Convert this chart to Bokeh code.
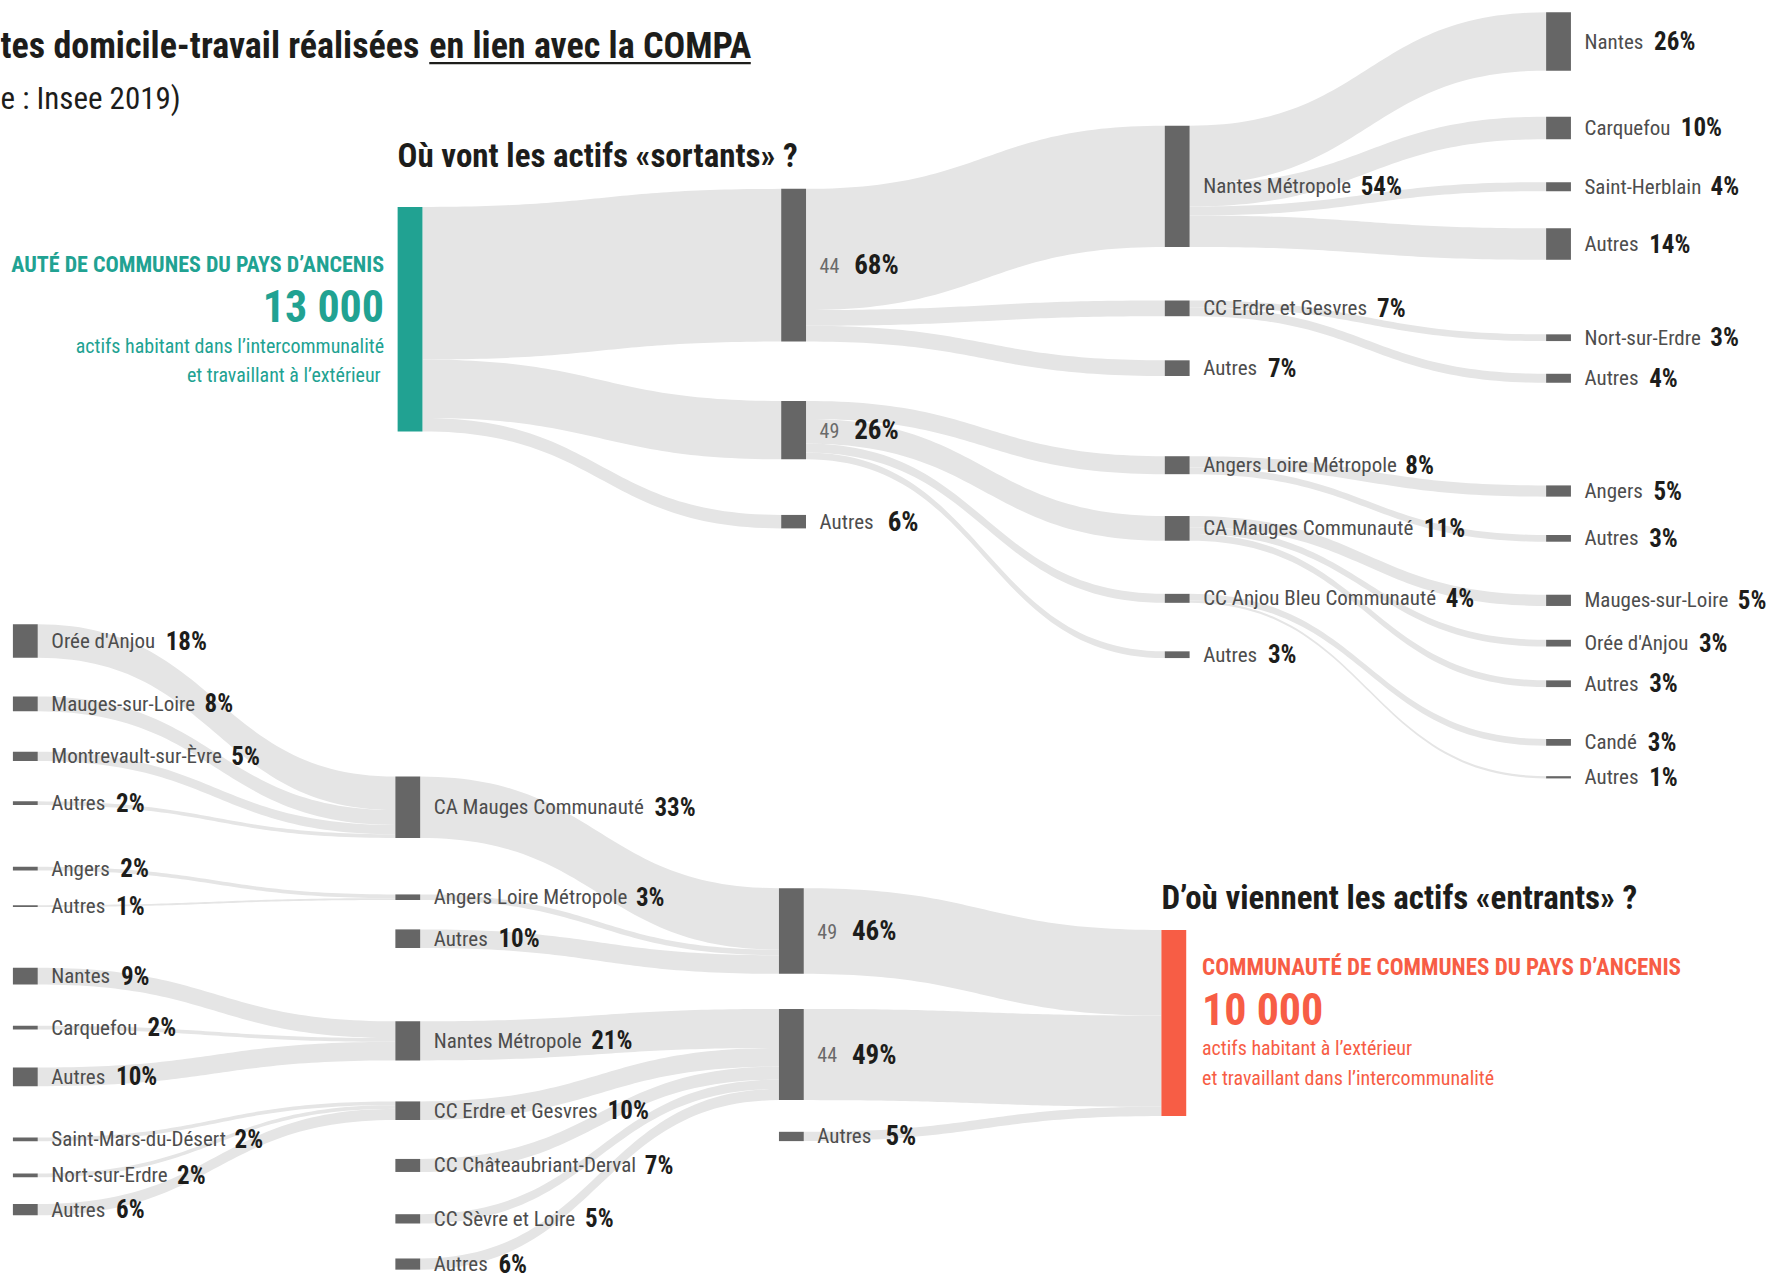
import unicodedata
import numpy as np
from bokeh.plotting import figure
from bokeh.models import Range1d, ColumnDataSource
from bokeh.embed import file_html
from bokeh.resources import INLINE
from bokeh.core.properties import value

# ------------------------------------------------------------------ data
title_part1 = "tes domicile-travail réalisées"
title_part2 = "en lien avec la COMPA"
subtitle = "e : Insee 2019)"
out_title = "Où vont les actifs «sortants» ?"
in_title = "D’où viennent les actifs «entrants» ?"
out_heading = "AUTÉ DE COMMUNES DU PAYS D’ANCENIS"
in_heading = "COMMUNAUTÉ DE COMMUNES DU PAYS D’ANCENIS"
out_total = "13 000"
in_total = "10 000"
out_caption = ["actifs habitant dans l’intercommunalité", "et travaillant à l’extérieur"]
in_caption = ["actifs habitant à l’extérieur", "et travaillant dans l’intercommunalité"]

# actifs "sortants" (% of 13 000)
out_l1_names = ["44", "49", "Autres"]
out_l1_pct = [68, 26, 6]

out_l2_names = ["Nantes Métropole", "CC Erdre et Gesvres", "Autres",
                "Angers Loire Métropole", "CA Mauges Communauté",
                "CC Anjou Bleu Communauté", "Autres"]
out_l2_pct = [54, 7, 7, 8, 11, 4, 3]
out_l2_parent = [0, 0, 0, 1, 1, 1, 1]

out_l3_names = ["Nantes", "Carquefou", "Saint-Herblain", "Autres",
                "Nort-sur-Erdre", "Autres", "Angers", "Autres",
                "Mauges-sur-Loire", "Orée d'Anjou", "Autres", "Candé", "Autres"]
out_l3_pct = [26, 10, 4, 14, 3, 4, 5, 3, 5, 3, 3, 3, 1]
out_l3_parent = [0, 0, 0, 0, 1, 1, 3, 3, 4, 4, 4, 5, 5]

# actifs "entrants" (% of 10 000)
in_l1_names = ["49", "44", "Autres"]
in_l1_pct = [46, 49, 5]

in_l2_names = ["CA Mauges Communauté", "Angers Loire Métropole", "Autres",
               "Nantes Métropole", "CC Erdre et Gesvres", "CC Châteaubriant-Derval",
               "CC Sèvre et Loire", "Autres"]
in_l2_pct = [33, 3, 10, 21, 10, 7, 5, 6]
in_l2_child = [0, 0, 0, 1, 1, 1, 1, 1]

in_l3_names = ["Orée d'Anjou", "Mauges-sur-Loire", "Montrevault-sur-Èvre", "Autres",
               "Angers", "Autres", "Nantes", "Carquefou", "Autres",
               "Saint-Mars-du-Désert", "Nort-sur-Erdre", "Autres"]
in_l3_pct = [18, 8, 5, 2, 2, 1, 9, 2, 10, 2, 2, 6]
in_l3_child = [0, 0, 0, 0, 1, 1, 3, 3, 3, 4, 4, 4]

# ------------------------------------------------------------------ layout / style
W_PX, H_PX = 1769, 1278
XR, YR = 1568, 1133
S = W_PX / XR
FONT = value("Roboto Condensed")
NODE_W = 22
LINK = "#e5e5e5"
NODE = "#666666"
TEAL = "#21a292"
RED = "#f75d45"
C_NAME = "#4d4d4d"
C_NUM = "#6a6a6a"
C_PCT = "#1d1d1b"
C_TITLE = "#1d1d1b"

top_k = 1.99
bot_k = 1.65
top_x = [352, 692, 1032, 1370]
bot_x = [11, 350, 690, 1029]
top_gaps = [[183], [167, 52.7, 49.3],
             [111, 47.5, 39.1, 71.1, 37.1, 47.1, 43],
             [10.5, 40.8, 38.1, 33, 66.1, 29, 91, 34, 47, 30, 30, 46, 27]]
bot_gaps = [[553, 34.3, 35.8, 35.75, 54.7, 30.7, 53.85, 36.65, 33.7, 45.5, 28.7, 23.7],
             [688, 50.05, 26.05, 65, 36.35, 34.5, 37.45, 31.0],
             [787, 31.1, 28.1], [824]]

# approximate Roboto advance widths (units / 2048) used to chain name + percent labels
ADV = {" ": 507, "%": 1465, "'": 313, "’": 392, "(": 684, ")": 694, "-": 553, ".": 527,
       ":": 484, "?": 946, "«": 940, "»": 938,
       "A": 1336, "B": 1275, "C": 1333, "D": 1343, "E": 1164, "F": 1132, "G": 1395,
       "H": 1460, "I": 557, "J": 1130, "K": 1284, "L": 1102, "M": 1788, "N": 1460,
       "O": 1408, "P": 1292, "Q": 1408, "R": 1260, "S": 1218, "T": 1222, "U": 1329,
       "V": 1302, "W": 1818, "X": 1284, "Y": 1230, "Z": 1226,
       "a": 1089, "b": 1120, "c": 1045, "d": 1126, "e": 1058, "f": 693, "g": 1120,
       "h": 1100, "i": 486, "j": 477, "k": 1013, "l": 486, "m": 1752, "n": 1102,
       "o": 1139, "p": 1120, "q": 1126, "r": 677, "s": 1031, "t": 655, "u": 1100,
       "v": 967, "w": 1502, "x": 991, "y": 946, "z": 991}


def tw(s, size, bold=False, bold_factor=0.93):
    tot = 0
    for ch in s:
        if ch.isdigit():
            tot += 1150
            continue
        base = unicodedata.normalize("NFD", ch)[0]
        tot += ADV.get(ch, ADV.get(base, 1000))
    return tot / 2048 * size * (bold_factor if bold else 0.89) / S  # in data units


def stack(pcts, gaps, k):
    spans, y = [], 0.0
    for p, g in zip(pcts, gaps):
        y += g
        spans.append((y, y + p * k))
        y += p * k
    return spans


def band(x0, a0, b0, x1, a1, b1, n=60):
    t = np.linspace(0, 1, n)
    xm = (x0 + x1) / 2
    bx = (1 - t) ** 3 * x0 + 3 * (1 - t) ** 2 * t * xm + 3 * (1 - t) * t ** 2 * xm + t ** 3 * x1
    s = 3 * t ** 2 - 2 * t ** 3
    top = a0 + (a1 - a0) * s
    bot = b0 + (b1 - b0) * s
    return list(bx) + list(bx[::-1]), list(top) + list(bot[::-1])


link_xs, link_ys = [], []


def split_links(par_spans, par_idx, ch_spans, ch_pcts, k, xs, xt):
    off = [s[0] for s in par_spans]
    for i, pi in enumerate(par_idx):
        a = off[pi]
        b = a + ch_pcts[i] * k
        off[pi] = b
        bx, by = band(xs, a, b, xt, ch_spans[i][0], ch_spans[i][1])
        link_xs.append(bx)
        link_ys.append(by)


def merge_links(src_spans, ch_idx, tgt_spans, src_pcts, k, xs, xt):
    off = [s[0] for s in tgt_spans]
    for i, ci in enumerate(ch_idx):
        a = off[ci]
        b = a + src_pcts[i] * k
        off[ci] = b
        bx, by = band(xs, src_spans[i][0], src_spans[i][1], xt, a, b)
        link_xs.append(bx)
        link_ys.append(by)


# ---- top (sortants)
t0 = stack([100], top_gaps[0], top_k)
t1 = stack(out_l1_pct, top_gaps[1], top_k)
t2 = stack(out_l2_pct, top_gaps[2], top_k)
t3 = stack(out_l3_pct, top_gaps[3], top_k)
split_links(t0, [0] * len(out_l1_pct), t1, out_l1_pct, top_k, top_x[0] + NODE_W, top_x[1])
split_links(t1, out_l2_parent, t2, out_l2_pct, top_k, top_x[1] + NODE_W, top_x[2])
split_links(t2, out_l3_parent, t3, out_l3_pct, top_k, top_x[2] + NODE_W, top_x[3])

# ---- bottom (entrants)
b3 = stack(in_l3_pct, bot_gaps[0], bot_k)
b2 = stack(in_l2_pct, bot_gaps[1], bot_k)
b1 = stack(in_l1_pct, bot_gaps[2], bot_k)
b0 = stack([100], bot_gaps[3], bot_k)
merge_links(b3, in_l3_child, b2, in_l3_pct, bot_k, bot_x[0] + NODE_W, bot_x[1])
merge_links(b2, in_l2_child, b1, in_l2_pct, bot_k, bot_x[1] + NODE_W, bot_x[2])
merge_links(b1, [0] * len(in_l1_pct), b0, in_l1_pct, bot_k, bot_x[2] + NODE_W, bot_x[3])

# ------------------------------------------------------------------ figure
p = figure(width=W_PX, height=H_PX, output_backend="svg", toolbar_location=None,
           x_range=Range1d(0, XR), y_range=Range1d(YR, 0),
           x_axis_type=None, y_axis_type=None, min_border=0,
           background_fill_color="white", border_fill_color="white")
p.outline_line_color = None
p.grid.visible = False

p.patches(xs=link_xs, ys=link_ys, fill_color=LINK, line_color=None)

# nodes
nl, nr, nt, nb, nc = [], [], [], [], []
for x, spans in [(top_x[1], t1), (top_x[2], t2), (top_x[3], t3),
                 (bot_x[0], b3), (bot_x[1], b2), (bot_x[2], b1)]:
    for a, b in spans:
        nl.append(x); nr.append(x + NODE_W); nt.append(a); nb.append(b); nc.append(NODE)
for x, spans, col in [(top_x[0], t0, TEAL), (bot_x[3], b0, RED)]:
    for a, b in spans:
        nl.append(x); nr.append(x + NODE_W); nt.append(a); nb.append(b); nc.append(col)
p.quad(left=nl, right=nr, top=nt, bottom=nb, fill_color=nc, line_color=None)

# node labels
name_src = dict(x=[], y=[], text=[], size=[], color=[])
pct_src = dict(x=[], y=[], text=[], size=[])


def add_labels(x, spans, names, pcts, numeric=False):
    for (a, b), nm, pc in zip(spans, names, pcts):
        cy = (a + b) / 2
        nx = x + NODE_W + 12
        is_num = numeric and nm.isdigit()
        nsize = 20 if is_num else 21
        name_src["x"].append(nx); name_src["y"].append(cy); name_src["text"].append(nm)
        name_src["size"].append(f"{nsize}px"); name_src["color"].append(C_NUM if is_num else C_NAME)
        gap = 13 if numeric else 10
        pct_src["x"].append(nx + tw(nm, nsize) + gap); pct_src["y"].append(cy)
        pct_src["text"].append(f"{pc}%")
        pct_src["size"].append("27px" if numeric else "25px")


add_labels(top_x[1], t1, out_l1_names, out_l1_pct, numeric=True)
add_labels(top_x[2], t2, out_l2_names, out_l2_pct)
add_labels(top_x[3], t3, out_l3_names, out_l3_pct)
add_labels(bot_x[2], b1, in_l1_names, in_l1_pct, numeric=True)
add_labels(bot_x[1], b2, in_l2_names, in_l2_pct)
add_labels(bot_x[0], b3, in_l3_names, in_l3_pct)

p.text(x="x", y="y", text="text", source=ColumnDataSource(name_src), text_font=FONT,
       text_font_size="size", text_color="color", text_baseline="middle", text_align="left")
p.text(x="x", y="y", text="text", source=ColumnDataSource(pct_src), text_font=FONT,
       text_font_size="size", text_color=C_PCT, text_font_style="bold",
       text_baseline="middle", text_align="left")


def txt(x, y, s, size, color, bold=False, align="left"):
    p.text(x=[x], y=[y], text=[s], text_font=FONT, text_font_size=f"{size}px",
           text_color=color, text_font_style="bold" if bold else "normal",
           text_baseline="middle", text_align=align)


# titles
TS = 36
txt(0, 40, title_part1, TS, C_TITLE, bold=True)
x2 = tw(title_part1, TS, bold=True, bold_factor=0.945) + tw(" ", TS, bold=True)
txt(x2, 40, title_part2, TS, C_TITLE, bold=True)
p.segment(x0=[x2], y0=[55.5], x1=[x2 + tw(title_part2, TS, bold=True, bold_factor=0.905)], y1=[55.5],
          line_color=C_TITLE, line_width=2.4)
txt(0, 87, subtitle, 31, C_TITLE)
txt(top_x[0], 137, out_title, 33, C_TITLE, bold=True)
txt(bot_x[3], 795, in_title, 33, C_TITLE, bold=True)

# teal block (sortants)
rx = top_x[0] - 12
txt(rx, 234, out_heading, 22, TEAL, bold=True, align="right")
txt(rx, 272, out_total, 44, TEAL, bold=True, align="right")
txt(rx, 306, out_caption[0], 20, TEAL, align="right")
txt(rx - 3, 332, out_caption[1], 20, TEAL, align="right")

# red block (entrants)
lx = bot_x[3] + NODE_W + 14
txt(lx, 857, in_heading, 23, RED, bold=True)
txt(lx, 895, in_total, 44, RED, bold=True)
txt(lx, 929, in_caption[0], 20, RED)
txt(lx, 955, in_caption[1], 20, RED)

open("out.html", "w").write(file_html(p, INLINE))
